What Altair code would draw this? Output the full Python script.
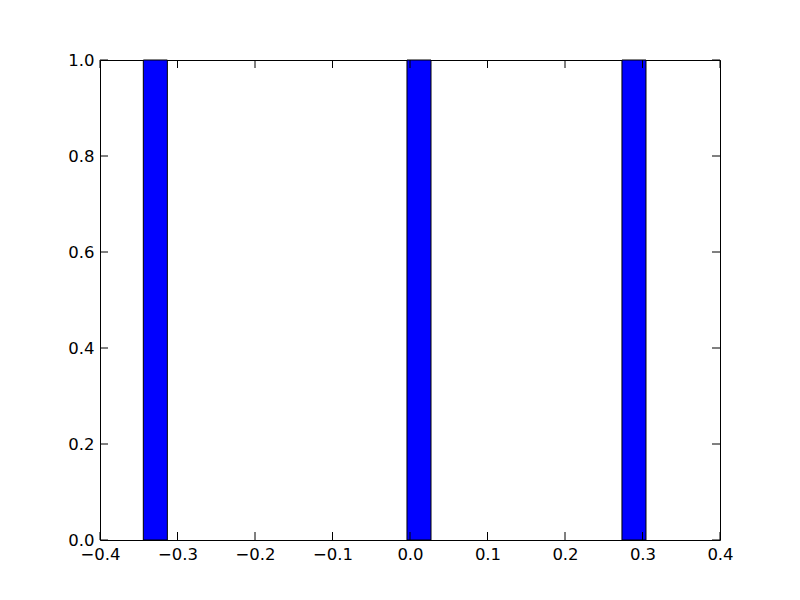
import altair as alt
import pandas as pd

bin_left = [-0.3441, -0.0039, 0.2735]
bin_right = [-0.3131, 0.0271, 0.3045]
counts = [1.0, 1.0, 1.0]

x_ticks = [-0.4, -0.3, -0.2, -0.1, 0.0, 0.1, 0.2, 0.3, 0.4]
y_ticks = [0.0, 0.2, 0.4, 0.6, 0.8, 1.0]

bars = pd.DataFrame({"left": bin_left, "right": bin_right, "count": counts})
xt = pd.DataFrame({"v": x_ticks})
yt = pd.DataFrame({"v": y_ticks})

W, H = 620, 480
FONT = "DejaVu Sans"
FS = 16.5
MINUS_EXPR = "replace(format(datum.value, '.1f'), '-', '\u2212')"

xscale = alt.Scale(domain=[-0.4, 0.4], nice=False, zero=False)
yscale = alt.Scale(domain=[0, 1], nice=False)


def xaxis():
    return alt.Axis(values=x_ticks, labelExpr=MINUS_EXPR, labelPadding=6,
                    labelFont=FONT, labelFontSize=FS, labelColor="black",
                    ticks=False, grid=False, domain=False, title=None,
                    labelFlush=False, labelOverlap=False)


def yaxis():
    return alt.Axis(values=y_ticks, labelExpr=MINUS_EXPR, labelPadding=6,
                    labelFont=FONT, labelFontSize=FS, labelColor="black",
                    ticks=False, grid=False, domain=False, title=None,
                    labelFlush=False, labelOverlap=False)


rects = alt.Chart(bars).mark_rect(color="#0000ff", stroke="black", strokeWidth=1).encode(
    x=alt.X("left:Q", scale=xscale, axis=xaxis()),
    x2="right:Q",
    y=alt.Y("count:Q", scale=yscale, axis=yaxis()),
    y2=alt.datum(0),
)

tick_len = 8
bx = alt.Chart(xt).mark_rule(color="black", strokeWidth=1).encode(
    x=alt.X("v:Q", scale=xscale, axis=xaxis()), y=alt.value(H), y2=alt.value(H - tick_len))
tx = alt.Chart(xt).mark_rule(color="black", strokeWidth=1).encode(
    x=alt.X("v:Q", scale=xscale, axis=xaxis()), y=alt.value(0), y2=alt.value(tick_len))
ly = alt.Chart(yt).mark_rule(color="black", strokeWidth=1).encode(
    y=alt.Y("v:Q", scale=yscale, axis=yaxis()), x=alt.value(0), x2=alt.value(tick_len))
ry = alt.Chart(yt).mark_rule(color="black", strokeWidth=1).encode(
    y=alt.Y("v:Q", scale=yscale, axis=yaxis()), x=alt.value(W), x2=alt.value(W - tick_len))

chart = alt.layer(rects, bx, tx, ly, ry).properties(
    width=W, height=H,
    autosize=alt.AutoSizeParams(type="none"),
    padding={"left": 92, "top": 52, "right": 72, "bottom": 52},
).configure_view(stroke="black", strokeWidth=1).configure_axis(
    labelFont=FONT, labelFontSize=FS, labelColor="black",
)

chart.save("out.html", embed_options={"renderer": "svg", "actions": False})
